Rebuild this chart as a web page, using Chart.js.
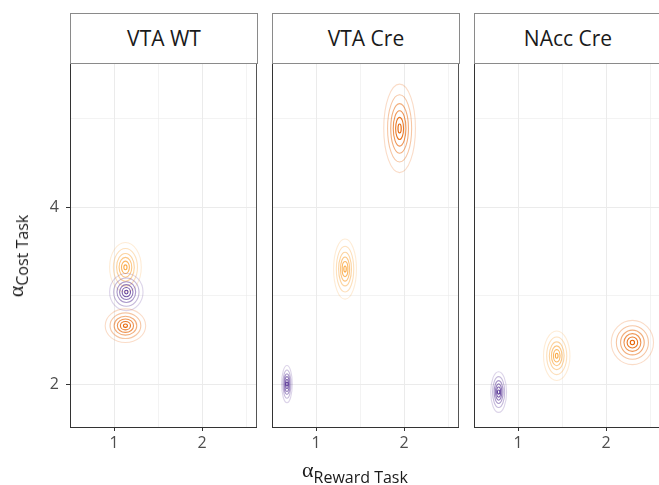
<!DOCTYPE html>
<html>
<head>
<meta charset="utf-8">
<script src="https://cdn.jsdelivr.net/npm/chart.js@4.4.1/dist/chart.umd.min.js"></script>
<style>
  html, body { margin: 0; padding: 0; background: #fff; }
  body { position: relative; width: 659px; height: 485px; overflow: hidden; font-family: "Open Sans", sans-serif; }
  .panel { position: absolute; top: 64px; height: 421px; }
  .strip {
    position: absolute; top: 13px; height: 51px; width: 188px; box-sizing: border-box;
    border: 1px solid #8a8a8a; background: #fff; text-align: center;
    font-size: 21px; line-height: 49px; color: #1a1a1a;
  }
  .greek { font-family: "Liberation Serif", serif; font-size: 22px; }
  .sub { font-family: "Open Sans", sans-serif; font-size: 16px; position: relative; }
  #xtitle { position: absolute; left: 302px; top: 457px; white-space: nowrap; color: #1a1a1a; }
  #xtitle .sub { top: 6px; }
  #ytitle { position: absolute; left: 16px; top: 256px; white-space: nowrap; color: #1a1a1a;
    transform: translate(-50%, -50%) rotate(-90deg); }
  #ytitle .sub { top: 5px; }
</style>
</head>
<body>

<div class="strip" style="left:70px">VTA WT</div>
<div class="strip" style="left:272px">VTA Cre</div>
<div class="strip" style="left:474px">NAcc Cre</div>

<div class="panel" style="left:0px;width:257px"><canvas id="panel0"></canvas></div>
<div class="panel" style="left:262px;width:197px"><canvas id="panel1"></canvas></div>
<div class="panel" style="left:464px;width:197px"><canvas id="panel2"></canvas></div>

<div id="xtitle"><span class="greek">α</span><span class="sub">Reward Task</span></div>
<div id="ytitle"><span class="greek">α</span><span class="sub">Cost Task</span></div>

<script>
// === Facetas y ejes ===
const panels = ["VTA WT", "VTA Cre", "NAcc Cre"];
const xTickLabels = [1, 2];
const yTickLabels = [2, 4];

// === Centros de cada grupo por faceta (x = alpha reward, y = alpha cost) ===
const darkOrangeX = [1.13, 1.95, 2.30];
const darkOrangeY = [2.66, 4.89, 2.47];
const lightOrangeX = [1.13, 1.33, 1.44];
const lightOrangeY = [3.32, 3.30, 2.32];
const purpleX = [1.14, 0.67, 0.78];
const purpleY = [3.04, 2.00, 1.91];

// === Extension del contorno exterior (semi-ejes, en unidades de datos) ===
const darkOrangeSx = [0.23, 0.18, 0.24];
const darkOrangeSy = [0.19, 0.50, 0.25];
const lightOrangeSx = [0.18, 0.13, 0.15];
const lightOrangeSy = [0.28, 0.34, 0.28];
const purpleSx = [0.19, 0.06, 0.09];
const purpleSy = [0.21, 0.21, 0.23];

// niveles de densidad: fraccion del contorno exterior y opacidad
const ringLevels = [1, 0.76, 0.56, 0.4, 0.25, 0.1];
const ringAlpha = [0.22, 0.36, 0.52, 0.68, 0.85, 1];

const colores = {
  naranja: [230, 97, 1],
  melocoton: [250, 170, 70],
  morado: [94, 60, 153]
};

// === Plugin: dibuja contornos alrededor de cada centro usando las escalas ===
const contornos = {
  id: "contornos",
  afterDatasetsDraw(chart) {
    const { ctx, chartArea, scales } = chart;
    ctx.save();
    ctx.beginPath();
    ctx.rect(chartArea.left, chartArea.top, chartArea.right - chartArea.left, chartArea.bottom - chartArea.top);
    ctx.clip();
    chart.data.datasets.forEach((ds, i) => {
      const meta = chart.getDatasetMeta(i);
      meta.data.forEach((el, j) => {
        const p = ds.data[j];
        const rx = Math.abs(scales.x.getPixelForValue(p.x + ds.sx) - el.x);
        const ry = Math.abs(scales.y.getPixelForValue(p.y + ds.sy) - el.y);
        ringLevels.forEach((f, k) => {
          ctx.beginPath();
          ctx.ellipse(el.x, el.y, Math.max(rx * f, 1.2), Math.max(ry * f, 1.2), 0, 0, Math.PI * 2);
          ctx.strokeStyle = `rgba(${ds.rgb.join(",")},${ringAlpha[k]})`;
          ctx.lineWidth = 1.1;
          ctx.stroke();
        });
      });
    });
    ctx.restore();
  }
};

// === Plugin: borde derecho del panel ===
const marco = {
  id: "marco",
  afterDraw(chart) {
    const { ctx, chartArea } = chart;
    ctx.save();
    ctx.strokeStyle = "#555";
    ctx.lineWidth = 1;
    ctx.beginPath();
    ctx.moveTo(chartArea.right - 0.5, chartArea.top);
    ctx.lineTo(chartArea.right - 0.5, chartArea.bottom);
    ctx.stroke();
    ctx.restore();
  }
};

const fuente = { family: "Open Sans", size: 16 };

function crearPanel(p) {
  const conEjeY = p === 0;
  return new Chart(document.getElementById("panel" + p), {
    type: "scatter",
    data: {
      datasets: [
        { data: [{ x: lightOrangeX[p], y: lightOrangeY[p] }], sx: lightOrangeSx[p], sy: lightOrangeSy[p], rgb: colores.melocoton },
        { data: [{ x: darkOrangeX[p], y: darkOrangeY[p] }], sx: darkOrangeSx[p], sy: darkOrangeSy[p], rgb: colores.naranja },
        { data: [{ x: purpleX[p], y: purpleY[p] }], sx: purpleSx[p], sy: purpleSy[p], rgb: colores.morado }
      ]
    },
    options: {
      responsive: true,
      maintainAspectRatio: false,
      animation: false,
      layout: { padding: 0 },
      elements: { point: { radius: 0, hoverRadius: 0 } },
      plugins: { legend: { display: false }, tooltip: { enabled: false } },
      scales: {
        x: {
          type: "linear",
          min: 0.5,
          max: 2.625,
          ticks: {
            stepSize: 0.5,
            includeBounds: false,
            autoSkip: false,
            maxRotation: 0,
            padding: 3,
            color: "#4d4d4d",
            font: fuente,
            callback: v => xTickLabels.includes(v) ? String(v) : ""
          },
          grid: {
            color: "#ebebeb",
            lineWidth: c => Number.isInteger(c.tick.value) ? 1 : 0.6,
            tickLength: 4,
            tickColor: c => xTickLabels.includes(c.tick.value) ? "#333" : "rgba(0,0,0,0)"
          },
          border: { color: "#333", width: 1 },
          afterFit: s => { s.height = 58; s.paddingLeft = 0; s.paddingRight = 0; }
        },
        y: {
          type: "linear",
          min: 1.515,
          max: 5.618,
          ticks: {
            display: conEjeY,
            stepSize: 1,
            includeBounds: false,
            padding: 7,
            color: "#4d4d4d",
            font: fuente,
            callback: v => yTickLabels.includes(v) ? String(v) : ""
          },
          grid: {
            color: "#ebebeb",
            lineWidth: c => yTickLabels.includes(c.tick.value) ? 1 : 0.6,
            tickLength: conEjeY ? 4 : 0,
            tickColor: c => conEjeY && yTickLabels.includes(c.tick.value) ? "#333" : "rgba(0,0,0,0)"
          },
          border: { color: "#333", width: 1 },
          afterFit: s => { s.width = conEjeY ? 70 : 10; s.paddingTop = 0; s.paddingBottom = 0; }
        }
      }
    },
    plugins: [contornos, marco]
  });
}

panels.forEach((nombre, p) => crearPanel(p));
</script>
</body>
</html>
